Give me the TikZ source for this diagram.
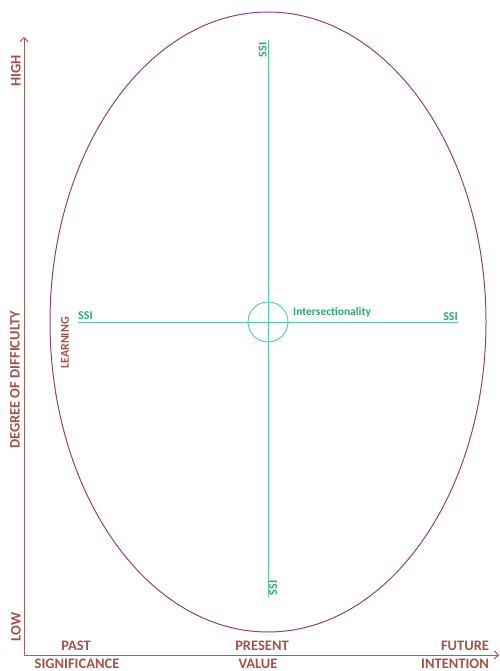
\documentclass[tikz,border=0pt]{standalone}
\usepackage{fontspec}
\setmainfont{Carlito}
\usetikzlibrary{arrows.meta,shapes.geometric}
\definecolor{axisc}{HTML}{A4605A}
\definecolor{axtext}{HTML}{A3524A}
\definecolor{ellc}{HTML}{92407F}
\definecolor{grline}{HTML}{52C9A0}
\definecolor{grtext}{HTML}{2FA870}
\begin{document}
\begin{tikzpicture}[x=1pt,y=-1pt,
  axisline/.style={draw=axisc,line width=1pt},
  axlabel/.style={text=axtext,font=\bfseries\fontsize{14.5}{16}\selectfont,inner sep=0pt},
  grlabel/.style={text=grtext,font=\bfseries\fontsize{12}{14}\selectfont,inner sep=0pt},
  grl/.style={draw=grline,line width=0.9pt}]
\useasboundingbox (0,0) rectangle (499,671);
\coordinate (origin) at (24,655);
\coordinate (ytip) at (24,37);
\coordinate (xtip) at (499,655);
\draw[axisline,-{Straight Barb[length=4pt,width=8pt]}] (origin) -- (ytip);
\draw[axisline,-{Straight Barb[length=4pt,width=8pt]}] (origin) -- (xtip);
\node[draw=ellc,line width=1pt,ellipse,minimum width=436pt,minimum height=620pt,inner sep=0pt] (ell) at (268,322) {};
\coordinate (c) at (268,322);
\coordinate (vtop) at (268,40);
\coordinate (vbot) at (268,597);
\coordinate (hl) at (78,322);
\coordinate (hr) at (458,322);
\draw[grl] (vtop) -- (vbot);
\draw[grl] (hl) -- (hr);
\node[grl,circle,minimum size=40pt,inner sep=0pt] (circ) at (c) {};
\node[grlabel,font=\bfseries\fontsize{11.5}{14}\selectfont,anchor=west] (inter) at (293,312) {Intersectionality};
\node[grlabel,anchor=base west] (ssil) at (78,319) {SSI};
\node[grlabel,anchor=base east] (ssir) at (458,320) {SSI};
\node[grlabel,rotate=90,anchor=base] (ssit) at (266.5,50) {SSI};
\node[grlabel,rotate=90,anchor=north] (ssib) at (269,588) {SSI};
\node[axlabel,font=\bfseries\fontsize{12}{14}\selectfont,rotate=90] (learn) at (65,343) {LEARNING};
\node[axlabel,rotate=90] (high) at (16,71) {HIGH};
\node[axlabel,rotate=90] (low) at (16,627) {LOW};
\node[axlabel,rotate=90] (dod) at (15,380) {DEGREE OF DIFFICULTY};
\node[axlabel] (past) at (76,645.5) {PAST};
\node[axlabel] (present) at (262,645.5) {PRESENT};
\node[axlabel] (future) at (465,645.5) {FUTURE};
\node[axlabel] (sig) at (77,664) {SIGNIFICANCE};
\node[axlabel] (val) at (258,664) {VALUE};
\node[axlabel] (int) at (455,664) {INTENTION};
\end{tikzpicture}
\end{document}
